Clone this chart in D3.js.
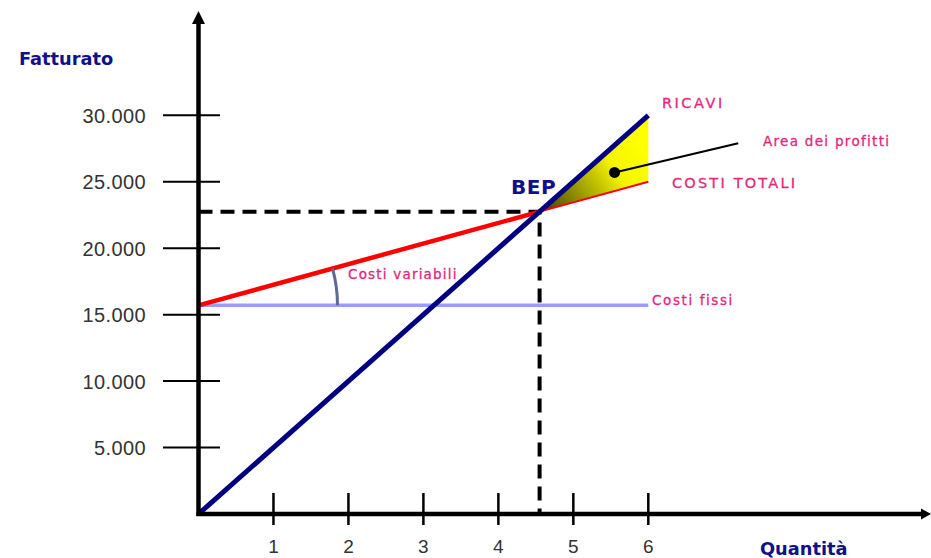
<!DOCTYPE html>
<html><head><meta charset="utf-8">
<script src="https://cdn.jsdelivr.net/npm/d3@7"></script>
<style>body{margin:0;background:#fff}svg{display:block}</style>
</head><body><svg id="chart" width="931" height="558"></svg>
<script>
// Break-even chart: revenue, total costs and fixed costs against quantity
const quantita = [0, 6];
const ricavi = [0, 30000];
const costiTotali = [15700, 25000];
const costiFissi = [15700, 15700];
const bep = [4.55, 22750];               // quantity, turnover at break-even
const xTicks = [1, 2, 3, 4, 5, 6];
const yTicks = [5000, 10000, 15000, 20000, 25000, 30000];
const yTickLabels = ["5.000", "10.000", "15.000", "20.000", "25.000", "30.000"];
const profitPointer = [[5.55, 25700], [7.2, 27900]];

const svg = d3.select("#chart");
const x = d3.scaleLinear().domain([0, 6]).range([198.5, 648.3]);
const y = d3.scaleLinear().domain([0, 30000]).range([514, 115.3]);
const pink = "#e2287e", navy = "#10108a";

svg.append("rect").attr("width", 931).attr("height", 558).attr("fill", "#fff");

// gradient for the profit area
const defs = svg.append("defs");
const grad = defs.append("linearGradient").attr("id", "profitGrad")
  .attr("gradientUnits", "userSpaceOnUse")
  .attr("x1", x(bep[0])).attr("y1", y(bep[1]))
  .attr("x2", x(6) - 8).attr("y2", y(27700));
grad.append("stop").attr("offset", 0).attr("stop-color", "#3a3a00");
grad.append("stop").attr("offset", 0.72).attr("stop-color", "#f4f400");
grad.append("stop").attr("offset", 1).attr("stop-color", "#ffff00");

// profit area between revenue and total costs beyond the break-even point
const area = [[bep[0], bep[1]], [quantita[1], ricavi[1]], [quantita[1], costiTotali[1]]];
svg.append("path")
  .attr("d", d3.line().x(d => x(d[0])).y(d => y(d[1]))(area) + "Z")
  .attr("fill", "url(#profitGrad)");

// y axis ticks
svg.append("g").selectAll("line").data(yTicks).join("line")
  .attr("x1", 163).attr("x2", 220)
  .attr("y1", d => y(d)).attr("y2", d => y(d))
  .attr("stroke", "#000").attr("stroke-width", 2);
svg.append("g").selectAll("text").data(yTicks).join("text")
  .attr("x", 146).attr("y", d => y(d) + 7.5)
  .attr("text-anchor", "end")
  .attr("font-family", "Liberation Sans, Arial, sans-serif")
  .attr("font-size", 20).attr("letter-spacing", 0.4).attr("fill", "#333")
  .text((d, i) => yTickLabels[i]);

// x axis ticks
svg.append("g").selectAll("line").data(xTicks).join("line")
  .attr("x1", d => x(d)).attr("x2", d => x(d))
  .attr("y1", 493).attr("y2", 525)
  .attr("stroke", "#000").attr("stroke-width", 2.5);
svg.append("g").selectAll("text").data(xTicks).join("text")
  .attr("x", d => x(d)).attr("y", 553)
  .attr("text-anchor", "middle")
  .attr("font-family", "Liberation Sans, Arial, sans-serif")
  .attr("font-size", 19).attr("fill", "#333")
  .text(d => d);

// break-even guide lines
svg.append("path")
  .attr("d", `M${x(0)},${y(bep[1])}H${x(bep[0])}V${y(0)}`)
  .attr("fill", "none").attr("stroke", "#000").attr("stroke-width", 4)
  .attr("stroke-dasharray", "14,8");

// fixed costs
const line = d3.line().x(d => x(d[0])).y(d => y(d[1]));
svg.append("path").attr("d", line(d3.zip(quantita, costiFissi)))
  .attr("stroke", "#9b9bff").attr("stroke-width", 3.5).attr("fill", "none");

// total costs: thick up to the break-even point, thin after it
const ctAt = q => costiTotali[0] + (costiTotali[1] - costiTotali[0]) * q / quantita[1];
svg.append("path").attr("d", line([[0, costiTotali[0]], [bep[0], ctAt(bep[0])]]))
  .attr("stroke", "#ff0000").attr("stroke-width", 4.5).attr("fill", "none");
svg.append("path").attr("d", line([[bep[0], ctAt(bep[0])], [quantita[1], costiTotali[1]]]))
  .attr("stroke", "#ff0000").attr("stroke-width", 2).attr("fill", "none");

// revenue
svg.append("path").attr("d", line(d3.zip(quantita, ricavi)))
  .attr("stroke", "#000080").attr("stroke-width", 5).attr("fill", "none");

// axes with arrowheads
const x0 = x(0), y0 = y(0);
svg.append("line").attr("x1", x0).attr("y1", y0 + 2).attr("x2", x0).attr("y2", 20)
  .attr("stroke", "#000").attr("stroke-width", 4.5);
svg.append("path").attr("d", `M${x0},11L${x0 + 6.5},24L${x0 - 6.5},24Z`).attr("fill", "#000");
svg.append("line").attr("x1", x0 - 2).attr("y1", y0).attr("x2", 924).attr("y2", y0)
  .attr("stroke", "#000").attr("stroke-width", 4.5);
svg.append("path").attr("d", `M931,${y0}L921,${y0 - 5.5}L921,${y0 + 5.5}Z`).attr("fill", "#000");

// variable cost angle marker
const cx = x(0), cy = y(costiTotali[0]);
const theta = Math.atan2(y(costiTotali[0]) - y(costiTotali[1]), x(quantita[1]) - x(0));
const arcP = d3.path();
arcP.arc(cx, cy, 139, -theta, 0);
svg.append("path").attr("d", arcP.toString())
  .attr("fill", "none").attr("stroke", "#5d6a98").attr("stroke-width", 3);

// profit pointer
svg.append("line")
  .attr("x1", x(profitPointer[0][0])).attr("y1", y(profitPointer[0][1]))
  .attr("x2", x(profitPointer[1][0])).attr("y2", y(profitPointer[1][1]))
  .attr("stroke", "#000").attr("stroke-width", 2.2);
svg.append("circle").attr("cx", x(profitPointer[0][0])).attr("cy", y(profitPointer[0][1]))
  .attr("r", 5.5).attr("fill", "#000");

// annotations
const note = (tx, ty, t, size, ls) => svg.append("text")
  .attr("x", tx).attr("y", ty).attr("fill", pink)
  .attr("font-family", "DejaVu Sans, sans-serif").attr("font-size", size)
  .attr("letter-spacing", ls).attr("stroke", pink).attr("stroke-width", 0.3).text(t);
note(662, 108, "RICAVI", 14.5, 2.5);
note(763, 146, "Area dei profitti", 13.5, 1.3);
note(672, 188, "COSTI TOTALI", 14.5, 2.2);
note(652, 305, "Costi fissi", 13.5, 1.6);
note(348, 279, "Costi variabili", 13.5, 1.2);

const bold = (tx, ty, t, size, anchor) => svg.append("text")
  .attr("x", tx).attr("y", ty).attr("fill", navy)
  .attr("font-family", "DejaVu Sans, sans-serif").attr("font-weight", "bold")
  .attr("font-size", size).attr("text-anchor", anchor || "start").text(t);
bold(511, 194, "BEP", 20).attr("letter-spacing", 0.5);
bold(19, 65, "Fatturato", 17.8);
bold(760, 555, "Quantità", 17.8);
</script>
</body></html>
